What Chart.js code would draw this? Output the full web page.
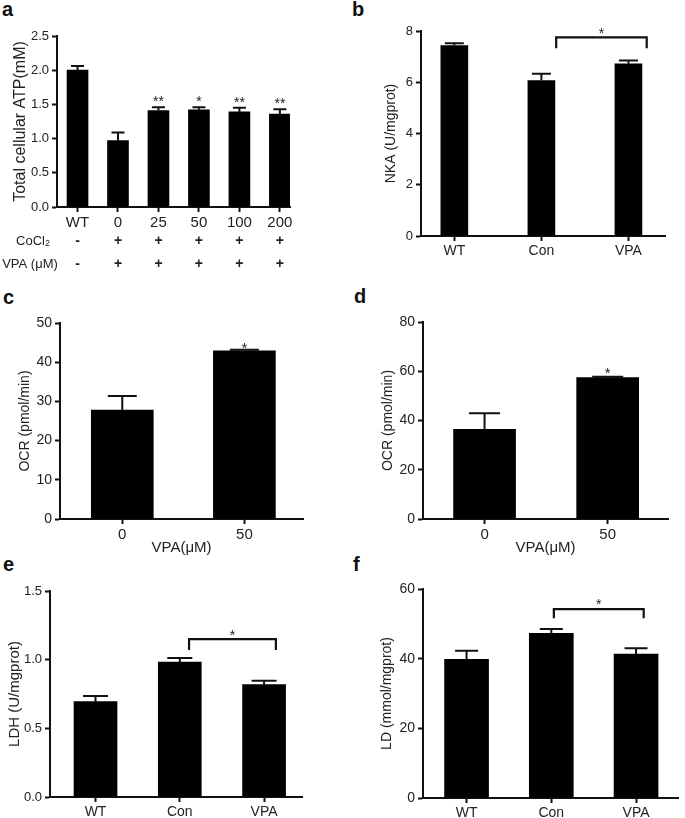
<!DOCTYPE html>
<html>
<head>
<meta charset="utf-8">
<script src="https://cdn.jsdelivr.net/npm/chart.js@4.4.0/dist/chart.umd.min.js"></script>
<style>
  body { margin: 0; background: #fff; width: 685px; height: 818px; position: relative; overflow: hidden;
         font-family: "Liberation Sans", Arial, sans-serif; }
  .box { position: absolute; }
  .tag { position: absolute; font-weight: bold; font-size: 20px; color: #111; line-height: 1; }
</style>
</head>
<body>
<div class="tag" style="left:2px;top:-1px">a</div>
<div class="tag" style="left:352px;top:-1px">b</div>
<div class="tag" style="left:3px;top:287px">c</div>
<div class="tag" style="left:354px;top:286px">d</div>
<div class="tag" style="left:3px;top:554px">e</div>
<div class="tag" style="left:353px;top:554px">f</div>

<div class="box" id="wa"><canvas id="ca"></canvas></div>
<div class="box" id="wb"><canvas id="cb"></canvas></div>
<div class="box" id="wc"><canvas id="cc"></canvas></div>
<div class="box" id="wd"><canvas id="cd"></canvas></div>
<div class="box" id="we"><canvas id="ce"></canvas></div>
<div class="box" id="wf"><canvas id="cf"></canvas></div>

<script>
// a: total cellular ATP
const atpLabels = ['WT', '0', '25', '50', '100', '200'];
const atpMean = [2.00, 0.97, 1.41, 1.42, 1.39, 1.36];
const atpErr = [0.06, 0.12, 0.05, 0.04, 0.06, 0.07];
const atpStars = ['', '', '**', '*', '**', '**'];
const cocl2Signs = ['-', '+', '+', '+', '+', '+'];
const vpaSigns = ['-', '+', '+', '+', '+', '+'];

// b: NKA
const nkaLabels = ['WT', 'Con', 'VPA'];
const nkaMean = [7.43, 6.07, 6.72];
const nkaErr = [0.09, 0.26, 0.13];
const nkaBracket = { from: 1.17, to: 2.21, top: 7.75, leg: 7.33, star: '*' };

// c, d: OCR
const ocrLabels = ['0', '50'];
const ocrMeanC = [27.8, 42.9];
const ocrErrC = [3.6, 0.3];
const ocrStarsC = ['', '*'];
const ocrMeanD = [36.4, 57.4];
const ocrErrD = [6.5, 0.4];
const ocrStarsD = ['', '*'];

// e: LDH
const ldhLabels = ['WT', 'Con', 'VPA'];
const ldhMean = [0.694, 0.983, 0.818];
const ldhErr = [0.042, 0.029, 0.029];
const ldhBracket = { from: 1.11, to: 2.14, top: 1.15, leg: 1.07, star: '*' };

// f: LD
const ldLabels = ['WT', 'Con', 'VPA'];
const ldMean = [39.8, 47.3, 41.3];
const ldErr = [2.5, 1.2, 1.7];
const ldBracket = { from: 1.03, to: 2.09, top: 54.2, leg: 51.6, star: '*' };

const FONT = '"Liberation Sans", Arial, sans-serif';
const INK = '#111';
const TXT = '#222';

// error bars, stars, brackets and the extra rows of panel a
const marks = {
  id: 'marks',
  afterDatasetsDraw(chart, args, o) {
    const ctx = chart.ctx;
    const xs = chart.scales.x, ys = chart.scales.y;
    ctx.save();
    ctx.strokeStyle = INK;
    ctx.fillStyle = TXT;
    ctx.lineWidth = 2;
    o.mean.forEach((m, i) => {
      const x = xs.getPixelForValue(i);
      const y0 = ys.getPixelForValue(m);
      const y1 = ys.getPixelForValue(m + o.err[i]);
      ctx.beginPath();
      ctx.moveTo(x, y0); ctx.lineTo(x, y1);
      ctx.moveTo(x - o.cap / 2, y1); ctx.lineTo(x + o.cap / 2, y1);
      ctx.stroke();
      if (o.stars && o.stars[i]) {
        ctx.font = o.starSize + 'px ' + FONT;
        ctx.textAlign = 'center';
        ctx.textBaseline = 'alphabetic';
        ctx.fillText(o.stars[i], x, y1 - o.starGap + 0.58 * o.starSize);
      }
    });
    if (o.bracket) {
      const b = o.bracket;
      const x0 = xs.getPixelForValue(b.from), x1 = xs.getPixelForValue(b.to);
      const yt = ys.getPixelForValue(b.top), yl = ys.getPixelForValue(b.leg);
      ctx.lineWidth = 2.2;
      ctx.beginPath();
      ctx.moveTo(x0, yl); ctx.lineTo(x0, yt); ctx.lineTo(x1, yt); ctx.lineTo(x1, yl);
      ctx.stroke();
      ctx.font = o.starSize + 'px ' + FONT;
      ctx.textAlign = 'center';
      ctx.textBaseline = 'alphabetic';
      ctx.fillText(b.star, (x0 + x1) / 2, yt - o.starGap + 0.58 * o.starSize);
    }
    if (o.rows) {
      const base = chart.chartArea.bottom;
      ctx.textAlign = 'center';
      ctx.textBaseline = 'middle';
      o.rows.forEach(r => {
        ctx.font = 'bold 14px ' + FONT;
        r.signs.forEach((s, i) => ctx.fillText(s, xs.getPixelForValue(i), base + r.dy));
        ctx.font = '13px ' + FONT;
        if (r.sub) {
          const w = ctx.measureText(r.name).width;
          ctx.font = '9px ' + FONT;
          const ws = ctx.measureText(r.sub).width;
          const left = r.cx - (w + ws) / 2;
          ctx.textAlign = 'left';
          ctx.font = '13px ' + FONT;
          ctx.fillText(r.name, left, base + r.dy);
          ctx.font = '9px ' + FONT;
          ctx.fillText(r.sub, left + w, base + r.dy + 3);
          ctx.textAlign = 'center';
        } else {
          ctx.fillText(r.name, r.cx, base + r.dy);
        }
      });
    }
    ctx.restore();
  }
};

function panel(p) {
  const wrap = document.getElementById(p.wrap);
  wrap.style.left = p.box[0] + 'px';
  wrap.style.top = p.box[1] + 'px';
  wrap.style.width = p.box[2] + 'px';
  wrap.style.height = p.box[3] + 'px';
  const [l, t, r, b] = p.area;
  const yAxisW = l - p.box[0];
  const xAxisH = p.box[1] + p.box[3] - b;

  new Chart(document.getElementById(p.canvas), {
    type: 'bar',
    data: {
      datasets: [{
        data: p.mean.map((v, i) => ({ x: i, y: v })),
        backgroundColor: '#000',
        borderWidth: 0,
        barThickness: p.barW
      }]
    },
    options: {
      responsive: true,
      maintainAspectRatio: false,
      animation: false,
      layout: { padding: { left: 0, top: t - p.box[1], right: p.box[0] + p.box[2] - r, bottom: 0 } },
      plugins: {
        legend: { display: false },
        tooltip: { enabled: false },
        marks: {
          mean: p.mean, err: p.err, cap: p.cap, stars: p.stars,
          starSize: p.starSize || 14, starGap: p.starGap || 8,
          bracket: p.bracket, rows: p.rows
        }
      },
      scales: {
        x: {
          type: 'linear',
          offset: false,
          min: p.xRange[0],
          max: p.xRange[1],
          afterBuildTicks: s => { s.ticks = p.labels.map((_, i) => ({ value: i })); },
          afterFit: s => { s.height = xAxisH; },
          ticks: {
            autoSkip: false, maxRotation: 0, padding: 2,
            color: TXT, font: { family: FONT, size: p.xFont },
            callback: v => p.labels[v]
          },
          grid: { offset: false, drawOnChartArea: false, drawTicks: true, tickLength: 5, tickWidth: 2, color: INK },
          border: { color: INK, width: 2 },
          title: p.xTitle ? {
            display: true, text: p.xTitle, color: TXT,
            font: { family: FONT, size: p.xFont },
            padding: { top: 0, bottom: p.box[1] + p.box[3] - p.xTitleY - 0.6 * p.xFont }
          } : { display: false }
        },
        y: {
          min: 0,
          max: p.yMax,
          afterFit: s => { s.width = yAxisW; },
          ticks: {
            stepSize: p.yStep, padding: 3, color: TXT,
            font: { family: FONT, size: p.yFont },
            callback: p.yFmt
          },
          grid: { drawOnChartArea: false, drawTicks: true, tickLength: 5, tickWidth: 2, color: INK },
          border: { color: INK, width: 2 },
          title: {
            display: true, text: p.yTitle, color: TXT,
            font: { family: FONT, size: p.yTitleSize },
            padding: { top: p.yTitleX - p.box[0] - 0.6 * p.yTitleSize, bottom: 0 }
          }
        }
      }
    },
    plugins: [marks]
  });
}

const oneDec = v => v.toFixed(1);

panel({
  wrap: 'wa', canvas: 'ca', box: [0, 0, 345, 276], area: [57, 36, 290, 207],
  labels: atpLabels, mean: atpMean, err: atpErr, stars: atpStars,
  xRange: [-0.507, 5.25], barW: 21, cap: 13, starSize: 14, starGap: 9,
  yMax: 2.5, yStep: 0.5, yFmt: oneDec, yFont: 13, xFont: 15,
  yTitle: 'Total cellular ATP(mM)', yTitleSize: 16, yTitleX: 21,
  rows: [
    { name: 'CoCl', sub: '2', cx: 33, dy: 34, signs: cocl2Signs },
    { name: 'VPA (\u03bcM)', cx: 30, dy: 57, signs: vpaSigns }
  ]
});

panel({
  wrap: 'wb', canvas: 'cb', box: [345, 0, 340, 262], area: [421, 31, 665, 236],
  labels: nkaLabels, mean: nkaMean, err: nkaErr, bracket: nkaBracket,
  xRange: [-0.383, 2.42], barW: 27, cap: 19, starSize: 14, starGap: 8,
  yMax: 8, yStep: 2, yFont: 13, xFont: 14,
  yTitle: 'NKA (U/mgprot)', yTitleSize: 14, yTitleX: 391
});

panel({
  wrap: 'wc', canvas: 'cc', box: [0, 280, 345, 277], area: [60, 323, 303, 519],
  labels: ocrLabels, mean: ocrMeanC, err: ocrErrC, stars: ocrStarsC,
  xRange: [-0.51, 1.48], barW: 62, cap: 29, starSize: 15, starGap: 5,
  yMax: 50, yStep: 10, yFont: 14, xFont: 15,
  xTitle: 'VPA(\u03bcM)', xTitleY: 548,
  yTitle: 'OCR (pmol/min)', yTitleSize: 14, yTitleX: 25
});

panel({
  wrap: 'wd', canvas: 'cd', box: [345, 280, 340, 277], area: [423, 322, 668, 519],
  labels: ocrLabels, mean: ocrMeanD, err: ocrErrD, stars: ocrStarsD,
  xRange: [-0.5, 1.49], barW: 62, cap: 31, starSize: 15, starGap: 7,
  yMax: 80, yStep: 20, yFont: 14, xFont: 15,
  xTitle: 'VPA(\u03bcM)', xTitleY: 548,
  yTitle: 'OCR (pmol/min)', yTitleSize: 14, yTitleX: 388
});

panel({
  wrap: 'we', canvas: 'ce', box: [0, 575, 345, 243], area: [50, 591, 302, 797],
  labels: ldhLabels, mean: ldhMean, err: ldhErr, bracket: ldhBracket,
  xRange: [-0.54, 2.45], barW: 43, cap: 25, starSize: 14, starGap: 7,
  yMax: 1.5, yStep: 0.5, yFmt: oneDec, yFont: 13, xFont: 14,
  yTitle: 'LDH (U/mgprot)', yTitleSize: 15, yTitleX: 15
});

panel({
  wrap: 'wf', canvas: 'cf', box: [345, 575, 340, 243], area: [423, 589, 678, 798],
  labels: ldLabels, mean: ldMean, err: ldErr, bracket: ldBracket,
  xRange: [-0.514, 2.495], barW: 44, cap: 23, starSize: 14, starGap: 8,
  yMax: 60, yStep: 20, yFont: 14, xFont: 14,
  yTitle: 'LD (mmol/mgprot)', yTitleSize: 14, yTitleX: 387
});
</script>
</body>
</html>
